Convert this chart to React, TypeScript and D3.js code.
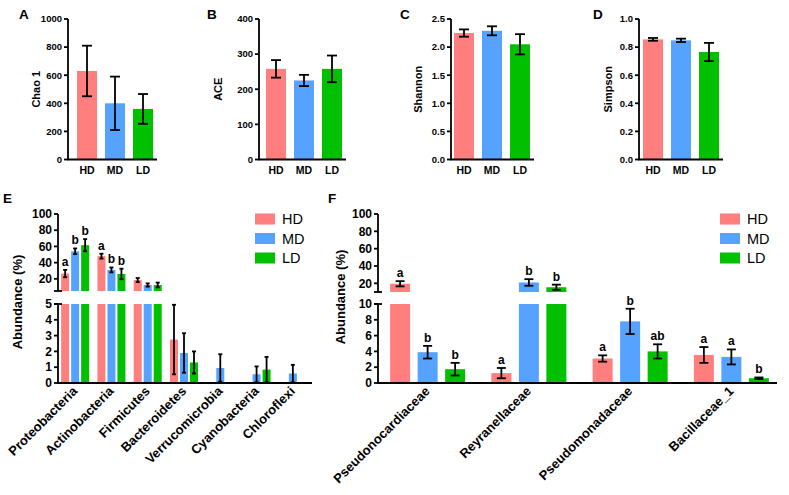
import React from 'react';
import * as d3 from 'd3';

const groups = ['HD', 'MD', 'LD'];
const colors = ['#FF7F7F', '#56A2FF', '#00C000'];

// Alpha diversity (A-D)
const chaoMean = [630, 400, 360];
const chaoSd = [180, 190, 106];
const aceMean = [258, 225, 258];
const aceSd = [25, 16, 38];
const shannonMean = [2.25, 2.29, 2.05];
const shannonSd = [0.065, 0.08, 0.18];
const simpsonMean = [0.855, 0.848, 0.765];
const simpsonSd = [0.01, 0.012, 0.065];

// Phylum level (E)
const phyla = ['Proteobacteria', 'Actinobacteria', 'Firmicutes', 'Bacteroidetes', 'Verrucomicrobia', 'Cyanobacteria', 'Chloroflexi'];
const phylaHD = [26.5, 48, 18.5, 2.75, 0.03, 0.01, 0];
const phylaHDsd = [4.5, 3, 2.5, 2.2, 0, 0, 0];
const phylaMD = [54, 31, 12.4, 1.9, 0.95, 0.55, 0.6];
const phylaMDsd = [3.5, 3, 2, 1.25, 0.87, 0.5, 0.55];
const phylaLD = [61.5, 26, 12.4, 1.3, 0.02, 0.85, 0];
const phylaLDsd = [7.5, 6.5, 3, 0.7, 0, 0.8, 0];
const phylaLetters = [['a', 'b', 'b'], ['a', 'b', 'b'], ['', '', ''], ['', '', ''], ['', '', ''], ['', '', ''], ['', '', '']];

// Family level (F)
const families = ['Pseudonocardiaceae', 'Reyranellaceae', 'Pseudomonadaceae', 'Bacillaceae_1'];
const famHD = [19.5, 1.25, 3.1, 3.55];
const famHDsd = [3, 0.65, 0.4, 1.0];
const famMD = [3.9, 21, 7.8, 3.3];
const famMDsd = [0.8, 3.8, 1.6, 0.95];
const famLD = [1.75, 15.5, 4.0, 0.6];
const famLDsd = [0.8, 3, 0.9, 0.1];
const famLetters = [['a', 'b', 'b'], ['a', 'b', 'b'], ['a', 'b', 'ab'], ['a', 'a', 'b']];

const FONT = 'Liberation Sans, Arial, Helvetica, sans-serif';
const AX = 1.8;

function ErrBar({ x, y1, y2, cap }: { x: number; y1: number; y2: number; cap: number }) {
  return (
    <g stroke="#000" strokeWidth={1.8}>
      <line x1={x} x2={x} y1={y1} y2={y2} />
      <line x1={x - cap / 2} x2={x + cap / 2} y1={y1} y2={y1} />
      <line x1={x - cap / 2} x2={x + cap / 2} y1={y2} y2={y2} />
    </g>
  );
}

function TopPanel(props: {
  label: string; title: string; mean: number[]; sd: number[]; max: number; step: number; fmt: string;
  axisX: number; barStart: number; axisEnd: number; labelX: number; titleX: number;
}) {
  const { label, title, mean, sd, max, step, fmt, axisX, barStart, axisEnd, labelX, titleX } = props;
  const y = d3.scaleLinear().domain([0, max]).range([159.5, 19]);
  const x = d3.scaleBand().domain(groups).range([barStart, barStart + 76]).paddingInner(0.2857).paddingOuter(0);
  const ticks = d3.range(0, max + step / 2, step);
  const f = d3.format(fmt);
  return (
    <g fontFamily={FONT}>
      <text x={labelX} y={19} fontSize={13.5} fontWeight="bold">{label}</text>
      {groups.map((g, i) => (
        <rect key={g} x={x(g)} width={x.bandwidth()} y={y(mean[i])} height={y(0) - y(mean[i])} fill={colors[i]} />
      ))}
      {groups.map((g, i) => (
        <ErrBar key={g} x={(x(g) as number) + x.bandwidth() / 2} y1={y(mean[i] + sd[i])} y2={y(mean[i] - sd[i])} cap={10} />
      ))}
      <line x1={axisX} x2={axisX} y1={y(0)} y2={y(max)} stroke="#000" strokeWidth={AX} />
      <line x1={axisX - 0.9} x2={axisEnd} y1={y(0)} y2={y(0)} stroke="#000" strokeWidth={AX} />
      {ticks.map((t) => (
        <g key={t}>
          <line x1={axisX - 4} x2={axisX} y1={y(t)} y2={y(t)} stroke="#000" strokeWidth={AX} />
          <text x={axisX - 6} y={y(t)} dy="0.35em" textAnchor="end" fontSize={9.5} fontWeight="bold">{f(t)}</text>
        </g>
      ))}
      {groups.map((g) => (
        <text key={g} x={(x(g) as number) + x.bandwidth() / 2} y={174} textAnchor="middle" fontSize={10.5} fontWeight="bold">{g}</text>
      ))}
      <text transform={`translate(${titleX},${(y(0) + y(max)) / 2}) rotate(-90)`} dy="0.35em" textAnchor="middle" fontSize={11} fontWeight="bold">{title}</text>
    </g>
  );
}

function BrokenPanel(props: {
  label: string; labelX: number; cats: string[]; hd: number[]; hdSd: number[]; md: number[]; mdSd: number[]; ld: number[]; ldSd: number[];
  letters: string[][]; brk: number; upperBottom: number; lowerTicks: number[]; axisX: number; axisEnd: number; rangeEnd: number;
  innerW: number; innerPad: number; cap: number; titleX: number; titleY: number; legendX: number; labelFont: number;
}) {
  const p = props;
  const yUp = d3.scaleLinear().domain([p.brk, 100]).range([p.upperBottom, 214]);
  const yLo = d3.scaleLinear().domain([0, p.brk]).range([383, 304]);
  const x0 = d3.scaleBand().domain(p.cats).range([p.axisX - 1, p.rangeEnd]).padding(0);
  const x1 = d3.scaleBand().domain(groups).range([-p.innerW / 2, p.innerW / 2]).paddingInner(p.innerPad).paddingOuter(0);
  const series = [
    { m: p.hd, s: p.hdSd },
    { m: p.md, s: p.mdSd },
    { m: p.ld, s: p.ldSd },
  ];
  const upTicks = [20, 40, 60, 80, 100];
  const center = (c: string) => (x0(c) as number) + x0.bandwidth() / 2;
  return (
    <g fontFamily={FONT}>
      <text x={p.labelX} y={203} fontSize={13.5} fontWeight="bold">{p.label}</text>
      {p.cats.map((c, ci) =>
        series.map((se, gi) => {
          const v = se.m[ci];
          const s = se.s[ci];
          const bx = center(c) + (x1(groups[gi]) as number);
          const bw = x1.bandwidth();
          const cx = bx + bw / 2;
          const els: any[] = [];
          const lowTop = yLo(Math.min(v, p.brk));
          els.push(<rect key="lo" x={bx} width={bw} y={lowTop} height={yLo(0) - lowTop} fill={colors[gi]} />);
          let errTop = lowTop;
          if (v > p.brk) {
            els.push(<rect key="up" x={bx} width={bw} y={yUp(v)} height={yUp(p.brk) - yUp(v)} fill={colors[gi]} />);
            errTop = yUp(v + s);
            if (s > 0) els.push(<ErrBar key="e" x={cx} y1={yUp(v + s)} y2={yUp(v - s)} cap={p.cap} />);
          } else if (s > 0) {
            errTop = yLo(Math.min(v + s, p.brk));
            els.push(<ErrBar key="e" x={cx} y1={errTop} y2={yLo(Math.max(0, v - s))} cap={p.cap} />);
          }
          const L = p.letters[ci][gi];
          if (L) els.push(<text key="l" x={cx} y={errTop - 4} textAnchor="middle" fontSize={12} fontWeight="bold">{L}</text>);
          return <g key={c + gi}>{els}</g>;
        })
      )}
      {/* axes */}
      <line x1={p.axisX} x2={p.axisX} y1={yUp(p.brk)} y2={yUp(100)} stroke="#000" strokeWidth={AX} />
      <line x1={p.axisX} x2={p.axisX} y1={yLo(0)} y2={yLo(p.brk)} stroke="#000" strokeWidth={AX} />
      <line x1={p.axisX - 4} x2={p.axisX + 4} y1={yUp(p.brk)} y2={yUp(p.brk)} stroke="#000" strokeWidth={AX} />
      <line x1={p.axisX - 4} x2={p.axisX + 4} y1={yLo(p.brk)} y2={yLo(p.brk)} stroke="#000" strokeWidth={AX} />
      <line x1={p.axisX - 0.9} x2={p.axisEnd} y1={yLo(0)} y2={yLo(0)} stroke="#000" strokeWidth={AX} />
      {upTicks.map((t) => (
        <g key={'u' + t}>
          <line x1={p.axisX - 4} x2={p.axisX} y1={yUp(t)} y2={yUp(t)} stroke="#000" strokeWidth={AX} />
          <text x={p.axisX - 6} y={yUp(t)} dy="0.35em" textAnchor="end" fontSize={12} fontWeight="bold">{t}</text>
        </g>
      ))}
      {p.lowerTicks.map((t) => (
        <g key={'l' + t}>
          <line x1={p.axisX - 4} x2={p.axisX} y1={yLo(t)} y2={yLo(t)} stroke="#000" strokeWidth={AX} />
          <text x={p.axisX - 6} y={yLo(t)} dy="0.35em" textAnchor="end" fontSize={12} fontWeight="bold">{t}</text>
        </g>
      ))}
      {p.cats.map((c) => (
        <text key={c} transform={`translate(${center(c) + 3},${392}) rotate(-45)`} textAnchor="end" fontSize={p.labelFont} fontWeight="bold">{c}</text>
      ))}
      <text transform={`translate(${p.titleX},${p.titleY}) rotate(-90)`} dy="0.35em" textAnchor="middle" fontSize={13} fontWeight="bold">Abundance (%)</text>
      {groups.map((g, i) => (
        <g key={'lg' + g}>
          <rect x={p.legendX} y={219 + i * 19.5 - 5.5} width={20} height={11} fill={colors[i]} />
          <text x={p.legendX + 27} y={219 + i * 19.5} dy="0.36em" fontSize={14.5}>{g}</text>
        </g>
      ))}
    </g>
  );
}

export default function App() {
  return (
    <svg width={789} height={495} style={{ position: 'absolute', left: 0, top: 0, background: '#fff' }}>
      <rect width={789} height={495} fill="#fff" />
      <TopPanel label="A" title="Chao 1" mean={chaoMean} sd={chaoSd} max={1000} step={200} fmt="d" axisX={68} barStart={77} axisEnd={157} labelX={19} titleX={36} />
      <TopPanel label="B" title="ACE" mean={aceMean} sd={aceSd} max={400} step={100} fmt="d" axisX={259} barStart={266} axisEnd={346} labelX={207} titleX={218} />
      <TopPanel label="C" title="Shannon" mean={shannonMean} sd={shannonSd} max={2.5} step={0.5} fmt=".1f" axisX={451} barStart={454} axisEnd={534} labelX={400} titleX={418} />
      <TopPanel label="D" title="Simpson" mean={simpsonMean} sd={simpsonSd} max={1.0} step={0.2} fmt=".1f" axisX={639} barStart={643} axisEnd={723} labelX={593} titleX={608} />
      <BrokenPanel label="E" labelX={3} cats={phyla} hd={phylaHD} hdSd={phylaHDsd} md={phylaMD} mdSd={phylaMDsd} ld={phylaLD} ldSd={phylaLDsd}
        letters={phylaLetters} brk={5} upperBottom={291} lowerTicks={[0, 1, 2, 3, 4, 5]} axisX={58} axisEnd={312} rangeEnd={311}
        innerW={28} innerPad={0.2} cap={4} titleX={17} titleY={302} legendX={255} labelFont={13} />
      <BrokenPanel label="F" labelX={328} cats={families} hd={famHD} hdSd={famHDsd} md={famMD} mdSd={famMDsd} ld={famLD} ldSd={famLDsd}
        letters={famLetters} brk={10} upperBottom={292} lowerTicks={[0, 2, 4, 6, 8, 10]} axisX={378} axisEnd={777} rangeEnd={782}
        innerW={75} innerPad={0.273} cap={9} titleX={340} titleY={297} legendX={720} labelFont={13} />
    </svg>
  );
}
